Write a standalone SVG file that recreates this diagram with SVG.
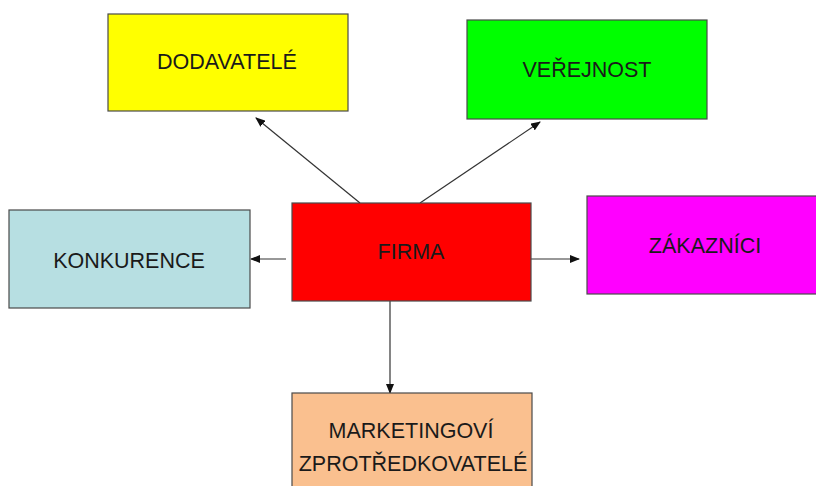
<svg xmlns="http://www.w3.org/2000/svg" width="816" height="486" viewBox="0 0 816 486">
<defs>
<marker id="ah" markerWidth="10" markerHeight="8" refX="9" refY="4" orient="auto" markerUnits="userSpaceOnUse">
<path d="M0,0 L10,4 L0,8 z" fill="#111"/>
</marker>
<style>
.box{stroke:#4a4a4a;stroke-width:1.2}
.lbl{font-family:"Liberation Sans",Arial,sans-serif;font-size:21.5px;fill:#1a1a1a;text-anchor:middle}
.con{stroke:#333;stroke-width:1.2;fill:none;marker-end:url(#ah)}
</style>
</defs>
<rect width="816" height="486" fill="#ffffff"/>
<g id="connectors">
<line class="con" x1="360" y1="203" x2="256" y2="118"/>
<line class="con" x1="420" y1="203" x2="540" y2="122"/>
<line class="con" x1="286" y1="259" x2="251" y2="259"/>
<line class="con" x1="531" y1="259" x2="579" y2="259"/>
<line class="con" x1="390" y1="301" x2="390" y2="393"/>
</g>
<g id="dodavatele">
<rect class="box" x="108" y="14" width="240" height="97" fill="#ffff00"/>
<text class="lbl" x="227" y="69">DODAVATELÉ</text>
</g>
<g id="verejnost">
<rect class="box" x="467" y="20" width="240" height="99" fill="#00ff00"/>
<text class="lbl" x="587" y="77">VEŘEJNOST</text>
</g>
<g id="konkurence">
<rect class="box" x="9" y="210" width="241" height="98" fill="#b7dfe2"/>
<text class="lbl" x="129" y="268">KONKURENCE</text>
</g>
<g id="firma">
<rect class="box" x="292" y="203" width="239" height="98" fill="#ff0000"/>
<text class="lbl" x="411" y="259">FIRMA</text>
</g>
<g id="zakaznici">
<rect class="box" x="587" y="196" width="240" height="98" fill="#ff00ff"/>
<text class="lbl" x="705" y="253">ZÁKAZNÍCI</text>
</g>
<g id="marketingovi">
<rect class="box" x="292" y="393" width="240" height="110" fill="#fac08f"/>
<text class="lbl" x="411" y="438">MARKETINGOVÍ</text>
<text class="lbl" x="413" y="471">ZPROTŘEDKOVATELÉ</text>
</g>
</svg>
